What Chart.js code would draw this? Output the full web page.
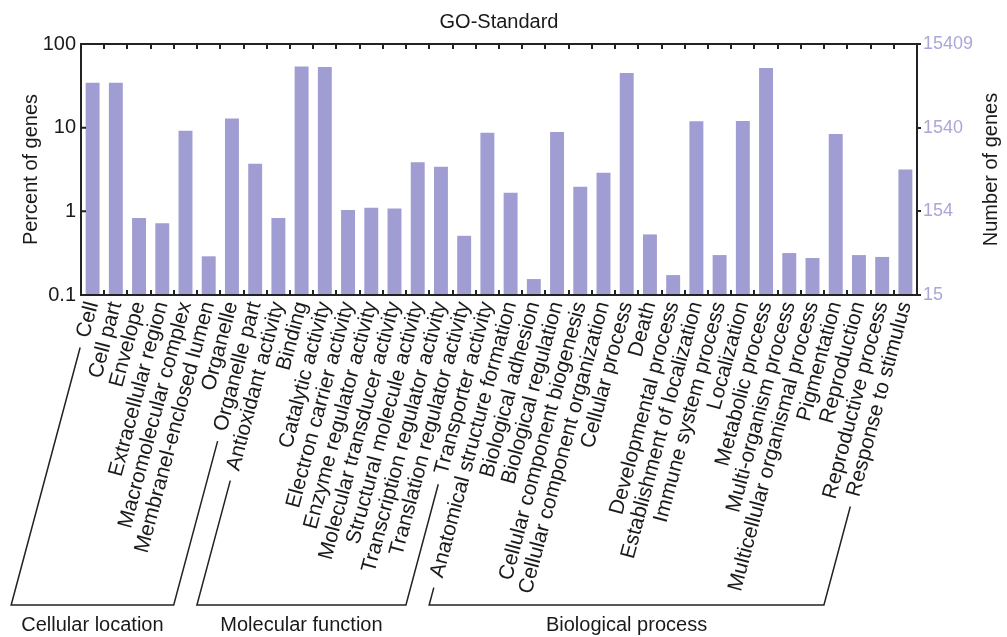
<!DOCTYPE html>
<html>
<head>
<meta charset="utf-8">
<script src="https://cdn.jsdelivr.net/npm/chart.js@4.4.1/dist/chart.umd.min.js"></script>
<style>
  html, body { margin: 0; padding: 0; background: #ffffff; }
  #wrap { width: 1007px; height: 637px; }
</style>
</head>
<body>
<div id="wrap"><canvas id="c" width="1007" height="637"></canvas></div>
<script>
// ---------------- DATA ----------------
const categories = [
  'Cell', 'Cell part', 'Envelope', 'Extracellular region', 'Macromolecular complex',
  'Membranel-enclosed lumen', 'Organelle', 'Organelle part',
  'Antioxidant activity', 'Binding', 'Catalytic activity', 'Electron carrier activity',
  'Enzyme regulator activity', 'Molecular transducer activity', 'Structural molecule activity',
  'Transcription regulator activity', 'Translation regulator activity', 'Transporter activity',
  'Anatomical structure formation', 'Biological adhesion', 'Biological regulation',
  'Cellular component biogenesis', 'Cellular component organization', 'Cellular process',
  'Death', 'Developmental process', 'Establishment of localization', 'Immune system process',
  'Localization', 'Metabolic process', 'Multi-organism process', 'Multicellular organismal process',
  'Pigmentation', 'Reproduction', 'Reproductive process', 'Response to stimulus'
];
const percentOfGenes = [
  34.5, 34.5, 0.83, 0.72, 9.2, 0.29, 12.9, 3.7,
  0.83, 54, 53, 1.04, 1.1, 1.08, 3.86, 3.42, 0.51, 8.7,
  1.67, 0.155, 8.9, 1.97, 2.9, 45, 0.53, 0.173, 11.9, 0.30, 12.0, 51.5, 0.317, 0.277, 8.4, 0.30, 0.285, 3.16
];
const leftTickValues = [0.1, 1, 10, 100];
const leftTickLabels = ['0.1', '1', '10', '100'];
const rightTickLabels = ['15', '154', '1540', '15409'];
const totalGenes = 15409;
const groupNames = ['Cellular location', 'Molecular function', 'Biological process'];
const groupFirst = [0, 8, 18];
const groupLast = [7, 17, 35];

// ---------------- STYLE ----------------
const FONT = "'Liberation Sans', Arial, Helvetica, sans-serif";
const INK = '#1a1a1a';
const BAR = '#a09dd2';
const LAV = '#aaa6d8';
const ROT = 75;
const LABEL_SIZE = 21;
const LABEL_PAD = 4;
const BRACKET_Y = 605;

const decor = {
  id: 'decor',
  afterDraw(chart) {
    const ctx = chart.ctx;
    const ca = chart.chartArea;
    const xs = chart.scales.x;
    const ys = chart.scales.y;
    ctx.save();
    ctx.strokeStyle = '#222';
    ctx.lineWidth = 2;
    ctx.strokeRect(ca.left, ca.top, ca.right - ca.left, ca.bottom - ca.top);
    // category boundary ticks (inward, top and bottom)
    ctx.beginPath();
    for (let i = 0; i < categories.length - 1; i++) {
      const bx = Math.round((xs.getPixelForValue(i) + xs.getPixelForValue(i + 1)) / 2);
      ctx.moveTo(bx, ca.bottom); ctx.lineTo(bx, ca.bottom - 5);
      ctx.moveTo(bx, ca.top); ctx.lineTo(bx, ca.top + 5);
    }
    // left ticks inward
    leftTickValues.forEach(v => {
      const y = ys.getPixelForValue(v);
      ctx.moveTo(ca.left, y); ctx.lineTo(ca.left + 5, y);
    });
    ctx.stroke();

    // right axis title (reads bottom to top)
    ctx.fillStyle = INK;
    ctx.font = '20px ' + FONT;
    ctx.save();
    ctx.translate(991, (ca.top + ca.bottom) / 2);
    ctx.rotate(-Math.PI / 2);
    ctx.textAlign = 'center';
    ctx.textBaseline = 'middle';
    ctx.fillText('Number of genes', 0, 0);
    ctx.restore();

    // group brackets
    const th = ROT * Math.PI / 180;
    const dx = -Math.cos(th), dy = Math.sin(th);
    const anchorY = ca.bottom + LABEL_PAD + 2;
    ctx.font = LABEL_SIZE + 'px ' + FONT;
    ctx.lineWidth = 1.5;
    ctx.strokeStyle = '#222';
    const gap = 12;
    for (let g = 0; g < groupNames.length; g++) {
      const pts = [groupFirst[g], groupLast[g]].map(i => {
        const x0 = xs.getPixelForValue(i);
        const d = ctx.measureText(categories[i]).width + gap;
        const sx = x0 + dx * d, sy = anchorY + dy * d;
        const t = (BRACKET_Y - anchorY) / dy;
        return { sx, sy, ex: x0 + dx * t };
      });
      ctx.beginPath();
      ctx.moveTo(pts[0].sx, pts[0].sy);
      ctx.lineTo(pts[0].ex, BRACKET_Y);
      ctx.lineTo(pts[1].ex, BRACKET_Y);
      ctx.lineTo(pts[1].sx, pts[1].sy);
      ctx.stroke();
      ctx.textAlign = 'center';
      ctx.textBaseline = 'alphabetic';
      ctx.font = '20px ' + FONT;
      ctx.fillText(groupNames[g], (pts[0].ex + pts[1].ex) / 2, 631);
      ctx.font = LABEL_SIZE + 'px ' + FONT;
    }
    ctx.restore();
  }
};

new Chart(document.getElementById('c'), {
  type: 'bar',
  data: {
    labels: categories,
    datasets: [{
      data: percentOfGenes,
      backgroundColor: BAR,
      borderWidth: 0,
      barPercentage: 0.6,
      categoryPercentage: 1.0,
      yAxisID: 'y'
    }]
  },
  options: {
    responsive: false,
    animation: false,
    devicePixelRatio: 1,
    layout: { padding: 0 },
    plugins: {
      legend: { display: false },
      tooltip: { enabled: false },
      title: {
        display: true,
        text: 'GO-Standard',
        color: INK,
        font: { family: FONT, size: 20, weight: 'normal' },
        padding: { top: 10, bottom: 10 },
        fullSize: false
      }
    },
    scales: {
      x: {
        type: 'category',
        offset: true,
        grid: { display: false, drawTicks: false },
        border: { display: false },
        ticks: {
          autoSkip: false,
          minRotation: ROT,
          maxRotation: ROT,
          padding: LABEL_PAD,
          color: INK,
          font: { family: FONT, size: LABEL_SIZE }
        },
        afterFit(s) { s.height = 342; }
      },
      y: {
        type: 'logarithmic',
        position: 'left',
        min: 0.1,
        max: 100,
        grid: { display: false, drawTicks: false },
        border: { display: false },
        afterBuildTicks(s) { s.ticks = leftTickValues.map(v => ({ value: v })); },
        ticks: {
          padding: 5,
          color: INK,
          font: { family: FONT, size: 20 },
          callback: (v, i) => leftTickLabels[i]
        },
        title: {
          display: true,
          text: 'Percent of genes',
          color: INK,
          font: { family: FONT, size: 20 },
          padding: { top: 19, bottom: 0 }
        },
        afterFit(s) { s.width = 81; }
      },
      y2: {
        type: 'logarithmic',
        position: 'right',
        min: 0.1 * totalGenes,
        max: 100 * totalGenes,
        grid: { display: true, drawOnChartArea: false, drawTicks: true, tickLength: 4, color: '#222', lineWidth: 2 },
        border: { display: false },
        afterBuildTicks(s) { s.ticks = leftTickValues.map(v => ({ value: v * totalGenes })); },
        ticks: {
          padding: 2,
          color: LAV,
          font: { family: FONT, size: 18 },
          callback: (v, i) => rightTickLabels[i]
        },
        afterFit(s) { s.width = 90; }
      }
    }
  },
  plugins: [decor]
});
</script>
</body>
</html>
